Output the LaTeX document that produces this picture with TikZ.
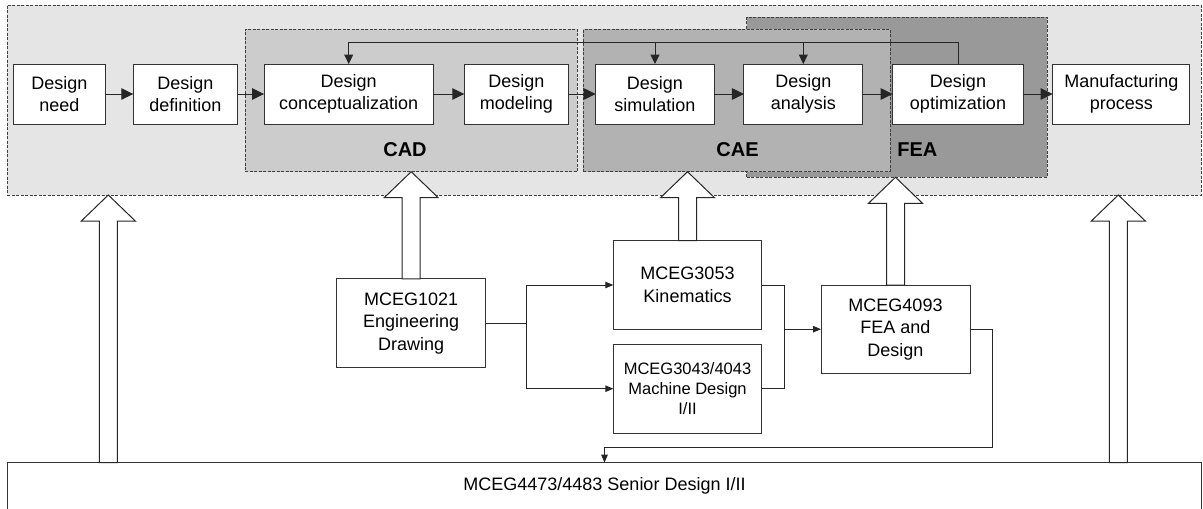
\documentclass[tikz,border=0pt]{standalone}
\usepackage{fontspec}
\setmainfont{Liberation Sans}
\usetikzlibrary{arrows.meta,calc}
\begin{document}
\begin{tikzpicture}[x=1pt,y=-1pt,
  every node/.style={inner sep=0pt,outer sep=0pt},
  txt/.style={font=\fontsize{18}{22.5}\selectfont,align=center},
  smalltxt/.style={font=\fontsize{16.5}{20}\selectfont,align=center},
  box/.style={draw=black!80,line width=1pt,fill=white,txt},
  group/.style={draw=black!75,line width=0.9pt,dash pattern=on 3pt off 1.5pt},
  grouplabel/.style={font=\fontsize{20}{24}\selectfont\bfseries},
  bigarr/.style={-{Triangle[length=12pt,width=11.5pt]},line width=1pt,draw=black!85},
  looparr/.style={-{Triangle[length=9.5pt,width=9pt]},line width=1pt,draw=black!85},
  smallarr/.style={-{Triangle[length=8pt,width=6.5pt]},line width=1pt,draw=black!85},
  conn/.style={line width=1pt,draw=black!85},
  hollow/.style={draw=black!85,line width=1pt,fill=white,line join=miter}]
\useasboundingbox (0,0) rectangle (1203,509);

% group areas
\node[group,fill=black!10,minimum width=1194pt,minimum height=190pt] (design) at (604,100) {};
\node[group,fill=black!40,minimum width=300.6pt,minimum height=160pt] (fea) at (897,97.3) {};
\node[group,fill=black!30,minimum width=306.7pt,minimum height=142.4pt] (cae) at (736.65,100.5) {};
\node[group,fill=black!20,minimum width=332.3pt,minimum height=142.4pt] (cad) at (411.15,100.5) {};
\node[grouplabel] (cadlbl) at (405,150) {CAD};
\node[grouplabel] (caelbl) at (737.5,150) {CAE};
\node[grouplabel,anchor=west] (fealbl) at (897.3,150) {FEA};

% top row process boxes
\node[box,minimum width=92pt,minimum height=60pt] (need) at (59.3,94) {Design\\need};
\node[box,minimum width=104pt,minimum height=60pt] (def) at (185.3,94) {Design\\definition};
\node[box,minimum width=169.3pt,minimum height=60pt] (conc) at (348.7,94) {Design\\conceptualization};
\node[box,minimum width=104pt,minimum height=60pt] (model) at (516.3,94) {Design\\modeling};
\node[box,minimum width=118.6pt,minimum height=60pt] (sim) at (655,94) {Design\\simulation};
\node[box,minimum width=118.7pt,minimum height=60pt] (ana) at (803.3,94) {Design\\analysis};
\node[box,minimum width=130.6pt,minimum height=60pt] (opt) at (958,94) {Design\\optimization};
\node[box,minimum width=137.3pt,minimum height=60pt] (manu) at (1121.3,94) {Manufacturing\\process};

\draw[bigarr] (need) -- (def);
\draw[bigarr] (def) -- (conc);
\draw[bigarr] (conc) -- (model);
\draw[bigarr] (model) -- (sim);
\draw[bigarr] (sim) -- (ana);
\draw[bigarr] (ana) -- (opt);
\draw[bigarr] (opt) -- (manu);

% feedback loop
\coordinate (loopy) at (0,42.7);
\draw[looparr] (opt.north) |- (loopy -| conc.north) -- (conc.north);
\draw[looparr] (sim.north |- loopy) -- (sim.north);
\draw[looparr] (ana.north |- loopy) -- (ana.north);

% course boxes
\node[box,minimum width=149pt,minimum height=88.7pt] (m1021) at (411.2,323.3) {MCEG1021\\Engineering\\Drawing};
\node[box,minimum width=148.4pt,minimum height=88.6pt] (m3053) at (687.5,285) {MCEG3053\\Kinematics};
\node[box,smalltxt,minimum width=148.4pt,minimum height=89.3pt] (m3043) at (687.5,388.7) {MCEG3043/4043\\Machine Design\\I/II};
\node[box,minimum width=149pt,minimum height=88.3pt] (m4093) at (895.5,329.2) {MCEG4093\\FEA and\\Design};
\node[txt,minimum width=1194.4pt,minimum height=46.3pt] (senior) at (604.5,485.85) {MCEG4473/4483 Senior Design I/II};
\draw[draw=black!80,line width=1pt] (senior.south west) -- (senior.north west) -- (senior.north east) -- (senior.south east);

% course connectors
\coordinate (j1) at ($(m1021.east)+(41,0)$);
\draw[conn] (m1021.east) -- (j1);
\draw[smallarr] (j1) |- (m3053.west);
\draw[smallarr] (j1) |- (m3043.west);
\coordinate (j2) at ($(m4093.west)+(-36.7,0)$);
\draw[conn] (m3053.east) -| (j2) |- (m3043.east);
\draw[smallarr] (j2) -- (m4093.west);
\draw[smallarr] (m4093.east) -- ++(22.3,0) |- ($(senior.north)+(0,-15)$) -- (senior.north);

% hollow block arrows: #1 shaft foot, #2 apex
\newcommand\hollowup[2]{%
  \draw[hollow] let \p1=(#1), \p2=(#2) in
    (\x1-9pt,\y1) -- (\x1-9pt,\y2-26pt) -- (\x1-27pt,\y2-26pt) -- (\x1,\y2)
    -- (\x1+27pt,\y2-26pt) -- (\x1+9pt,\y2-26pt) -- (\x1+9pt,\y1) -- cycle;}
\coordinate (lfoot) at ($(senior.north west)+(101,0)$);
\coordinate (rfoot) at ($(senior.north east)+(-83.4,0)$);
\hollowup{lfoot}{lfoot |- design.south}
\hollowup{rfoot}{rfoot |- design.south}
\hollowup{m1021.north}{m1021.north |- cad.south}
\hollowup{m3053.north}{m3053.north |- cae.south}
\hollowup{m4093.north}{m4093.north |- fea.south}
\end{tikzpicture}
\end{document}
